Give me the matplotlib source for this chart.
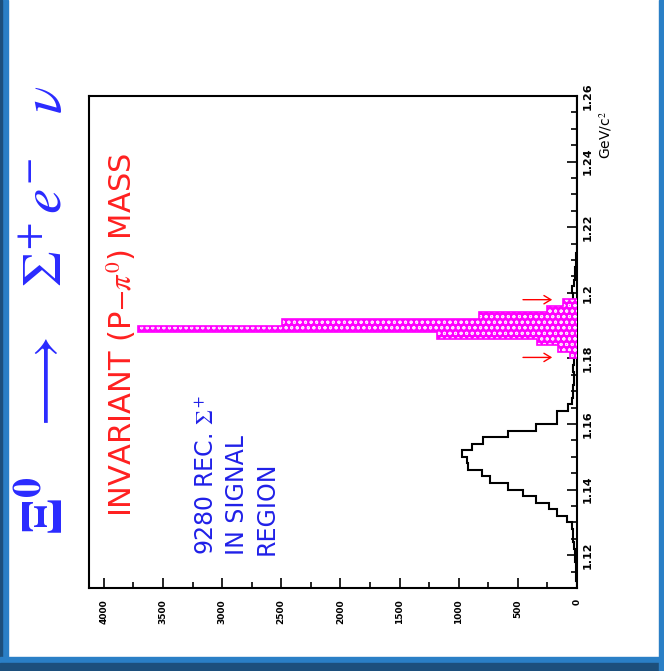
import numpy as np
import matplotlib
matplotlib.use("Agg")
import matplotlib.pyplot as plt
from matplotlib.patches import Rectangle

# mass bins, 2 MeV wide, from 1.11 to 1.26 GeV/c^2
m_lo, m_hi, m_bin = 1.11, 1.26, 0.002

# black histogram: counts per bin starting at 1.110
all_counts = [3, 5, 8, 12, 15, 18, 22, 30, 38, 45,
              87, 172, 234, 347, 454, 586, 735, 806, 924, 932,
              975, 890, 792, 586, 347, 172, 165, 73, 45, 30,
              30, 28, 25, 30, 28, 30, 32, 35, 35, 38,
              40, 38, 35, 35, 30, 40, 25, 20, 15, 10,
              5, 0, 0, 0, 0, 0, 0, 0, 0, 0,
              0, 0, 0, 0, 0, 0, 0, 0, 0, 0,
              0, 0, 0, 0, 0]

# magenta histogram (signal region), bins starting at 1.180
sig_start = 1.180
sig_counts = [59, 160, 341, 1186, 3711, 2496, 828, 256, 118]

# signal region limits marked by arrows
arrow_mass = [1.1803, 1.1979]
arrow_from, arrow_to = 480, 186

count_ticks = [0, 500, 1000, 1500, 2000, 2500, 3000, 3500, 4000]
mass_ticks = [1.12, 1.14, 1.16, 1.18, 1.20, 1.22, 1.24, 1.26]
mass_labels = ['1.12', '1.14', '1.16', '1.18', '1.2', '1.22', '1.24', '1.26']

plt.rcParams['mathtext.fontset'] = 'stix'

fig = plt.figure(figsize=(6.64, 6.71), dpi=100)
W, H = 664, 671

# blue frame of the slide
fig.patches.append(Rectangle((0, 0), 8 / W, 1, transform=fig.transFigure, color='#2a7fc6', zorder=0))
fig.patches.append(Rectangle((0, 0), 2 / W, 1, transform=fig.transFigure, color='#1c4f7c', zorder=0))
fig.patches.append(Rectangle((0, 0), 1, 14 / H, transform=fig.transFigure, color='#2a7fc6', zorder=0))
fig.patches.append(Rectangle((0, 0), 1, 8 / H, transform=fig.transFigure, color='#1c4f7c', zorder=0))
fig.patches.append(Rectangle((659 / W, 0), 5 / W, 1, transform=fig.transFigure, color='#2a7fc6', zorder=0))

ax = fig.add_axes([89 / W, 83 / H, 488 / W, 492 / H])

edges = np.round(m_lo + m_bin * np.arange(len(all_counts) + 1), 4)
sig_edges = np.round(sig_start + m_bin * np.arange(len(sig_counts) + 1), 4)

ax.stairs(all_counts, edges, orientation='horizontal', color='black', lw=1.5, zorder=2)
plt.rcParams['hatch.linewidth'] = 0.7
ax.stairs(sig_counts, sig_edges, orientation='horizontal', fill=True,
          facecolor='#ff00ff', edgecolor='#ffe0ff', hatch='ooo', lw=0, zorder=3)
ax.stairs(sig_counts, sig_edges, orientation='horizontal', color='#ff00ff', lw=1.2, zorder=4)

for m in arrow_mass:
    ax.annotate('', xy=(arrow_to, m), xytext=(arrow_from, m),
                arrowprops=dict(arrowstyle='->,head_length=0.5,head_width=0.3', color='red', lw=1))

ax.set_xlim(4125, 0)
ax.set_ylim(m_lo, m_hi)

ax.set_xticks(count_ticks)
ax.set_xticklabels([str(c) for c in count_ticks])
ax.set_xticks(np.arange(250, 4125, 500), minor=True)
ax.yaxis.tick_right()
ax.set_yticks(mass_ticks)
ax.set_yticklabels(mass_labels)
ax.set_yticks(np.arange(1.115, 1.26, 0.005), minor=True)

ax.tick_params(axis='x', which='both', direction='in', top=False, labelsize=6.5,
               labelrotation=90, pad=8, width=1.2)
ax.tick_params(axis='y', which='both', direction='in', left=False, labelsize=8,
               labelrotation=90, pad=4, width=1.2)
ax.tick_params(which='major', length=7)
ax.tick_params(which='minor', length=4)
for lab in ax.get_xticklabels() + ax.get_yticklabels():
    lab.set_fontweight('bold')
for lab in ax.get_yticklabels():
    lab.set_va('center')
for s in ax.spines.values():
    s.set_linewidth(1.5)

fig.text(606 / W, 1 - 135 / H, r'GeV/c$^2$', rotation=90, ha='center', va='center', fontsize=10)

fig.text(46 / W, 1 - 310 / H,
         r'$\mathbf{\Xi}^{\mathbf{0}}\quad\longrightarrow\quad\Sigma^{+}\,e^{-}\quad\nu$',
         rotation=90, ha='center', va='center', fontsize=41, color='#2a2aff')

fig.text(121 / W, 1 - 335 / H, r'INVARIANT (P$-\pi^0$) MASS', rotation=90,
         ha='center', va='center', fontsize=22, color='#ff2020')

fig.text(195 / W, 1 - 555 / H, '9280 REC. $\\Sigma^+$\nIN SIGNAL\nREGION', rotation=90,
         ha='left', va='bottom', fontsize=17, color='#2020e8',
         linespacing=1.3, multialignment='left')

fig.savefig('out.png', dpi=100)
